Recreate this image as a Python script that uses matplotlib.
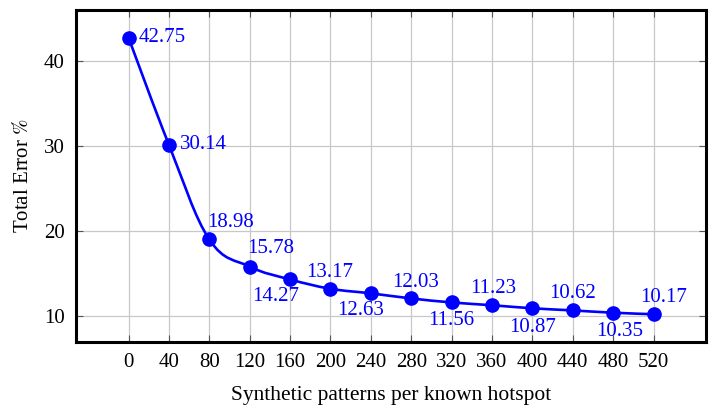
import numpy as np
import matplotlib
matplotlib.use("Agg")
import matplotlib.pyplot as plt
from matplotlib.path import Path
from matplotlib.patches import PathPatch

patterns = [0, 40, 80, 120, 160, 200, 240, 280, 320, 360, 400, 440, 480, 520]
total_error = [42.75, 30.14, 18.98, 15.78, 14.27, 13.17, 12.63,
               12.03, 11.56, 11.23, 10.87, 10.62, 10.35, 10.17]
labels = ["%.2f" % v for v in total_error]

# label offsets in pixels (dx, dy) and horizontal alignment
label_offsets = [(10, 0), (11, 0), (-2, 17), (-2, 18), (-14, -17), (-1, 16),
                 (-10, -17), (4, 16), (0, -18), (1, 17), (0, -19), (0, 17),
                 (7, -19), (10, 17)]
label_ha = ["left", "left", "left", "left"] + ["center"] * 10

plt.rcParams["font.family"] = ["Liberation Serif", "DejaVu Serif"]
plt.rcParams["mathtext.fontset"] = "stix"

fig = plt.figure(figsize=(7.12, 4.07), dpi=100)
ax = fig.add_axes([76 / 712, 65 / 407, 630 / 712, 332 / 407])

blue = "#0000ff"

# smooth curve like pgfplots "smooth" (tension 0.55)
x = np.array(patterns, dtype=float)
y = np.array(total_error, dtype=float)
t = 0.55 / 3.0
verts = [(x[0], y[0])]
codes = [Path.MOVETO]
n = len(x)
for i in range(n - 1):
    p0 = np.array([x[max(i - 1, 0)], y[max(i - 1, 0)]])
    p1 = np.array([x[i], y[i]])
    p2 = np.array([x[i + 1], y[i + 1]])
    p3 = np.array([x[min(i + 2, n - 1)], y[min(i + 2, n - 1)]])
    c1 = p1 + t * (p2 - p0)
    c2 = p2 - t * (p3 - p1)
    verts += [tuple(c1), tuple(c2), tuple(p2)]
    codes += [Path.CURVE4] * 3
ax.add_patch(PathPatch(Path(verts, codes), facecolor="none", edgecolor=blue,
                       linewidth=1.9, zorder=3))
ax.plot(patterns, total_error, linestyle="none", marker="o", markersize=9.5,
        color=blue, zorder=4)

for xi, yi, lab, (dx, dy), ha in zip(patterns, total_error, labels,
                                     label_offsets, label_ha):
    ax.annotate(lab, (xi, yi), xytext=(dx, dy), textcoords="offset pixels",
                ha=ha, va="center", color=blue, fontsize=15, zorder=5)

ax.set_xlim(-52, 572)
ax.set_ylim(6.9, 46.0)
ax.set_xticks(patterns)
ax.set_yticks([10, 20, 30, 40])
ax.grid(True, color="#c8c8c8", linewidth=0.9)
ax.set_axisbelow(True)
ax.tick_params(direction="in", length=5, width=0.8, color="#555555",
               top=True, right=True, labelsize=15, pad=8)
for s in ax.spines.values():
    s.set_linewidth(2.2)

ax.set_xlabel("Synthetic patterns per known hotspot", fontsize=15.5, labelpad=10)
ax.set_ylabel("Total Error $\\%$", fontsize=15, labelpad=8)

fig.savefig("out.png", dpi=100)
